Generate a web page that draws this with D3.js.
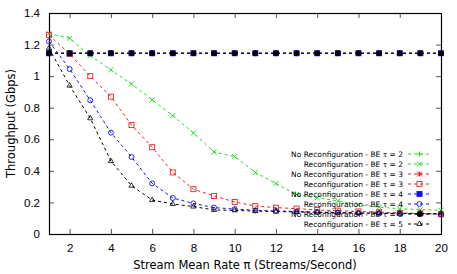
<!DOCTYPE html>
<html>
<head>
<meta charset="utf-8">
<script src="https://cdn.jsdelivr.net/npm/d3@7"></script>
<style>
  body { margin: 0; background: #fff; }
  svg { display: block; }
</style>
</head>
<body>
<svg id="chart" width="457" height="274"></svg>
<script>
// stream mean rate (x)
const rates = [1,2,3,4,5,6,7,8,9,10,11,12,13,14,15,16,17,18,19,20];

// throughput in Gbps
const noReconfT2 = [1.145,1.145,1.145,1.145,1.145,1.145,1.145,1.145,1.145,1.145,1.145,1.145,1.145,1.145,1.145,1.145,1.145,1.145,1.145,1.145];
const reconfT2   = [1.27,1.24,1.13,1.04,0.95,0.85,0.75,0.64,0.52,0.49,0.39,0.32,0.25,0.23,0.21,0.185,0.17,0.16,0.155,0.15];
const noReconfT3 = [1.145,1.145,1.145,1.145,1.145,1.145,1.145,1.145,1.145,1.145,1.145,1.145,1.145,1.145,1.145,1.145,1.145,1.145,1.145,1.145];
const reconfT3   = [1.26,1.14,1.00,0.87,0.69,0.55,0.39,0.284,0.241,0.203,0.177,0.167,0.161,0.152,0.148,0.143,0.138,0.133,0.13,0.125];
const noReconfT4 = [1.145,1.145,1.145,1.145,1.145,1.145,1.145,1.145,1.145,1.145,1.145,1.145,1.145,1.145,1.145,1.145,1.145,1.145,1.145,1.145];
const reconfT4   = [1.22,1.045,0.847,0.642,0.488,0.321,0.228,0.194,0.167,0.158,0.15,0.146,0.142,0.139,0.136,0.133,0.131,0.129,0.127,0.125];
const noReconfT5 = [1.145,1.145,1.145,1.145,1.145,1.145,1.145,1.145,1.145,1.145,1.145,1.145,1.145,1.145,1.145,1.145,1.145,1.145,1.145,1.145];
const reconfT5   = [1.176,0.94,0.733,0.462,0.306,0.215,0.19,0.174,0.152,0.15,0.145,0.142,0.14,0.137,0.135,0.133,0.132,0.131,0.13,0.13];

const labels = [
  "No Reconfiguration - BE τ = 2", "Reconfiguration - BE τ = 2",
  "No Reconfiguration - BE τ = 3", "Reconfiguration - BE τ = 3",
  "No Reconfiguration - BE τ = 4", "Reconfiguration - BE τ = 4",
  "No Reconfiguration - BE τ = 5", "Reconfiguration - BE τ = 5"
];
const xTicks = [2,4,6,8,10,12,14,16,18,20];
const yTicks = [0,0.2,0.4,0.6,0.8,1,1.2,1.4];

const series = [
  {name: labels[0], values: noReconfT2, color: "#22dd22", shape: "plus"},
  {name: labels[1], values: reconfT2,   color: "#22dd22", shape: "cross"},
  {name: labels[2], values: noReconfT3, color: "#ee2222", shape: "star"},
  {name: labels[3], values: reconfT3,   color: "#ee2222", shape: "square"},
  {name: labels[4], values: noReconfT4, color: "#1111ee", shape: "fsquare"},
  {name: labels[5], values: reconfT4,   color: "#1111ee", shape: "circle"},
  {name: labels[6], values: noReconfT5, color: "#000000", shape: "fcircle"},
  {name: labels[7], values: reconfT5,   color: "#000000", shape: "triangle"}
];

const svg = d3.select("#chart")
  .attr("font-family", "DejaVu Sans, sans-serif");
const margin = {top: 13, right: 16, bottom: 40, left: 49};
const width = +svg.attr("width") - margin.left - margin.right;
const height = +svg.attr("height") - margin.top - margin.bottom;

const x = d3.scaleLinear().domain([1, 20]).range([margin.left, margin.left + width]);
const y = d3.scaleLinear().domain([0, 1.4]).range([margin.top + height, margin.top]);

const tickLen = 5;

// axes with inward ticks, mirrored on top/right
svg.append("g")
    .attr("transform", `translate(0,${margin.top + height})`)
    .call(d3.axisBottom(x).tickValues(xTicks).tickSize(-tickLen).tickPadding(tickLen + 5).tickFormat(d3.format("d")))
    .call(g => g.select(".domain").remove())
    .call(g => g.selectAll("text").attr("font-size", 11.5).attr("fill", "#000"));
svg.append("g")
    .attr("transform", `translate(0,${margin.top})`)
    .call(d3.axisTop(x).tickValues(xTicks).tickSize(-tickLen).tickFormat(""))
    .call(g => g.select(".domain").remove());
svg.append("g")
    .attr("transform", `translate(${margin.left},0)`)
    .call(d3.axisLeft(y).tickValues(yTicks).tickSize(-tickLen).tickPadding(tickLen + 4).tickFormat(d => d))
    .call(g => g.select(".domain").remove())
    .call(g => g.selectAll("text").attr("font-size", 11.5).attr("fill", "#000"));
svg.append("g")
    .attr("transform", `translate(${margin.left + width},0)`)
    .call(d3.axisRight(y).tickValues(yTicks).tickSize(-tickLen).tickFormat(""))
    .call(g => g.select(".domain").remove());

svg.selectAll(".tick line").attr("stroke", "#555");

svg.append("rect")
    .attr("x", margin.left + 0.5).attr("y", margin.top + 0.5)
    .attr("width", width).attr("height", height)
    .attr("fill", "none").attr("stroke", "#000").attr("stroke-width", 1.2);

// axis titles
svg.append("text")
    .attr("x", margin.left + width / 2).attr("y", 269)
    .attr("text-anchor", "middle").attr("font-size", 11.5)
    .text("Stream Mean Rate π (Streams/Second)");
svg.append("text")
    .attr("transform", `translate(15,${margin.top + height / 2}) rotate(-90)`)
    .attr("text-anchor", "middle").attr("font-size", 11.5)
    .text("Throughput (Gbps)");

function marker(sel, shape, color) {
  const s = 2.5;
  if (shape === "plus") {
    sel.append("path").attr("d", `M${-s},0H${s}M0,${-s}V${s}`).attr("stroke", color).attr("fill", "none");
  } else if (shape === "cross") {
    sel.append("path").attr("d", `M${-s},${-s}L${s},${s}M${-s},${s}L${s},${-s}`).attr("stroke", color).attr("fill", "none");
  } else if (shape === "star") {
    sel.append("path").attr("d", `M${-s},0H${s}M0,${-s}V${s}M${-s},${-s}L${s},${s}M${-s},${s}L${s},${-s}`).attr("stroke", color).attr("fill", "none");
  } else if (shape === "square" || shape === "fsquare") {
    sel.append("rect").attr("x", -s).attr("y", -s).attr("width", 2 * s).attr("height", 2 * s)
      .attr("stroke", color).attr("stroke-width", 0.9).attr("fill", shape === "fsquare" ? color : "none");
  } else if (shape === "circle" || shape === "fcircle") {
    sel.append("circle").attr("r", s).attr("stroke", color).attr("stroke-width", 0.9).attr("fill", shape === "fcircle" ? color : "none");
  } else if (shape === "triangle") {
    sel.append("path").attr("d", d3.symbol(d3.symbolTriangle, 12)()).attr("stroke", color).attr("stroke-width", 0.8).attr("fill", "none");
  }
}

const line = d3.line().x((d, i) => x(rates[i])).y(d => y(d));

series.forEach(s => {
  const g = svg.append("g");
  g.append("path")
    .datum(s.values)
    .attr("d", line)
    .attr("fill", "none")
    .attr("stroke", s.color)
    .attr("stroke-width", 1)
    .attr("stroke-dasharray", "3,3");
  g.selectAll("g.pt")
    .data(s.values)
    .join("g")
      .attr("class", "pt")
      .attr("transform", (d, i) => `translate(${x(rates[i])},${y(d)})`)
      .each(function() { marker(d3.select(this), s.shape, s.color); });
});

// legend
const legend = svg.append("g").attr("font-size", 7.5);
series.forEach((s, i) => {
  const ly = 154 + i * 10;
  legend.append("text")
    .attr("x", 403).attr("y", ly).attr("dy", "0.35em")
    .attr("text-anchor", "end")
    .text(s.name);
  legend.append("line")
    .attr("x1", 408).attr("x2", 431).attr("y1", ly).attr("y2", ly)
    .attr("stroke", s.color).attr("stroke-dasharray", "3,3");
  const mg = legend.append("g").attr("transform", `translate(419.5,${ly})`);
  marker(mg, s.shape, s.color);
});
</script>
</body>
</html>
